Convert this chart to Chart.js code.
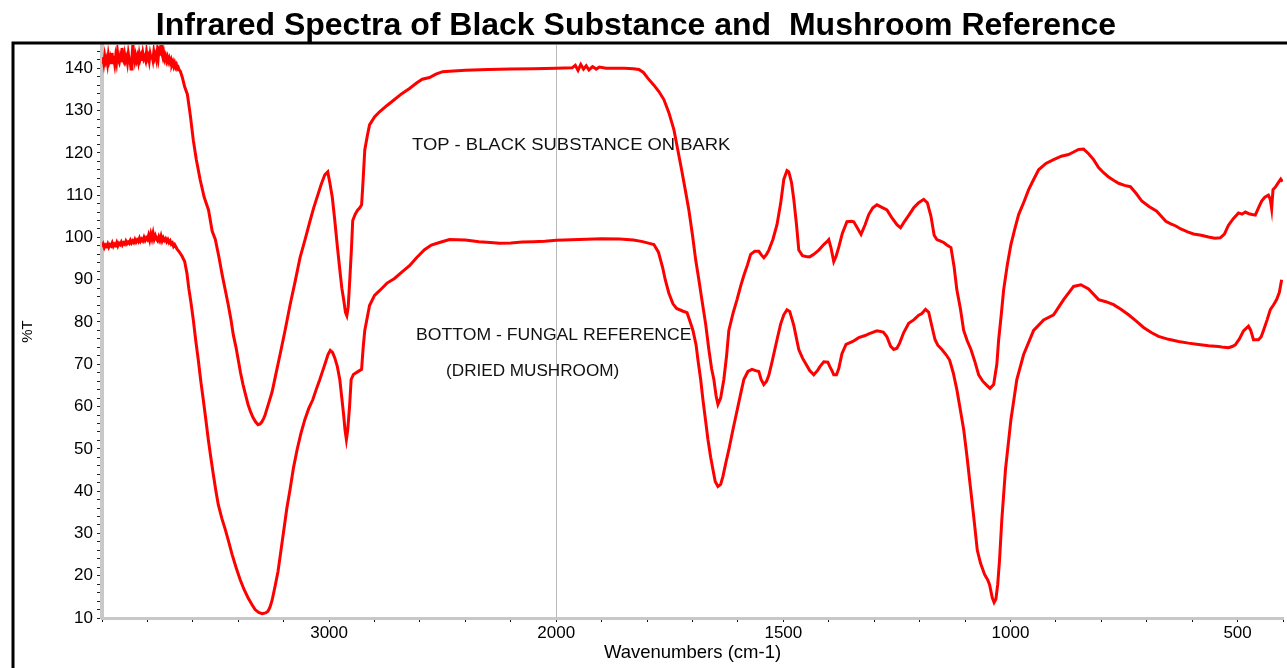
<!DOCTYPE html>
<html>
<head>
<meta charset="utf-8">
<title>Infrared Spectra</title>
<script src="https://cdn.jsdelivr.net/npm/chart.js@4.4.1/dist/chart.umd.min.js"></script>
<style>
  html, body { margin: 0; padding: 0; background: #fff; }
  canvas { display: block; }
</style>
</head>
<body>
<canvas id="ir" width="1287" height="668"></canvas>
<script>
// ---- chart data -------------------------------------------------------
const chartTitle = 'Infrared Spectra of Black Substance and  Mushroom Reference';
const xAxisTitle = 'Wavenumbers (cm-1)';
const yAxisTitle = '%T';

// [wavenumber cm-1, %T] — black substance scraped from bark (upper trace)
const blackSpectrum = [
  [4000,141.4],[3996,142.6],[3992,141.2],[3988,142.9],[3984,141.6],[3980,142.3],[3976,141.0],[3972,143.1],
  [3968,141.7],[3964,142.5],[3960,141.3],[3956,143.6],[3952,141.9],[3948,142.2],[3944,140.9],[3940,142.8],
  [3936,141.5],[3932,143.9],[3928,142.0],[3924,141.4],[3920,142.7],[3916,141.8],[3912,144.8],[3908,142.1],
  [3904,141.6],[3900,143.2],[3896,141.9],[3892,142.6],[3888,141.3],[3884,143.4],[3880,142.0],[3876,141.5],
  [3872,139.8],[3868,142.4],[3864,145.8],[3860,142.9],[3856,141.7],[3852,143.0],[3848,141.9],[3844,142.8],
  [3840,141.6],[3836,143.3],[3832,142.1],[3828,142.9],[3824,141.8],[3820,143.5],[3816,142.2],[3812,142.7],
  [3808,141.9],[3804,143.8],[3800,142.3],[3796,142.9],[3792,141.7],[3788,143.4],[3784,142.4],[3780,143.1],
  [3776,142.0],[3772,143.9],[3768,142.5],[3764,143.2],[3760,142.1],[3756,144.3],[3752,142.8],[3748,145.2],
  [3744,143.0],[3740,145.8],[3736,143.5],[3732,142.6],[3728,143.6],[3724,142.2],[3720,142.9],[3716,141.8],
  [3712,142.6],[3708,141.6],[3704,142.3],[3700,141.4],[3696,142.0],[3692,140.9],[3688,141.5],[3684,140.5],
  [3680,141.2],[3676,140.3],[3672,140.8],[3668,139.9],[3664,140.2],[3660,139.6],[3655,139.3],[3646,137.8],
  [3636,135.6],[3624,133.8],[3611,128.8],[3598,123],[3585,118.5],[3568,113.7],[3550,109.5],[3531,106.5],
  [3515,101.5],[3501,99.5],[3485,95.3],[3471,91.2],[3457,87.5],[3444,84],[3432,80.5],[3422,77],[3410,74],
  [3400,71],[3390,68],[3379,65.2],[3368,62.8],[3357,60.5],[3346,58.8],[3335,57.4],[3324,56.4],[3313,55.7],
  [3304,55.9],[3296,56.4],[3288,57.2],[3282,58],[3266,60.8],[3251,63.5],[3234,67.8],[3216,72.3],[3194,78],
  [3172,84],[3150,89.5],[3128,95.2],[3106,99.5],[3085,103.7],[3068,107],[3050,110],[3035,112.5],[3019,114.8],
  [3006,115.5],[2997,113],[2986,109.5],[2975,104],[2964,98],[2953,92.4],[2944,88],[2936,85.3],[2928,82.3],
  [2922,81.5],[2916,83.5],[2909,90],[2902,97],[2896,104],[2885,105.5],[2874,106.5],[2865,107],[2857,107.7],
  [2852,112],[2843,120.7],[2832,124],[2822,126.6],[2800,128.5],[2778,129.7],[2745,131.2],[2712,132.6],
  [2680,134],[2646,135.2],[2615,136.5],[2590,137.4],[2558,137.8],[2530,138.6],[2500,139.2],[2470,139.3],
  [2400,139.5],[2300,139.7],[2200,139.8],[2100,139.9],[2000,140.0],[1965,140.1],[1958,140.7],[1952,139.5],
  [1946,140.9],[1940,139.8],[1934,140.6],[1928,139.6],[1920,140.4],[1912,139.8],[1905,140.3],[1890,140.0],
  [1870,140.0],[1850,140.0],[1830,139.9],[1818,139.7],[1808,139.0],[1798,137.6],[1785,136.0],[1774,134.5],
  [1763,132.6],[1752,129.5],[1741,125.5],[1732,120.5],[1724,116],[1716,111.3],[1708,106.5],[1700,100.5],
  [1693,94.7],[1686,90],[1679,85],[1671,79.5],[1664,73.5],[1658,69],[1653,66.4],[1648,62.5],[1644,60.5],
  [1638,62],[1631,66.4],[1625,72],[1620,78],[1611,82],[1602,85.3],[1594,88.5],[1587,91],[1579,93.5],
  [1572,96],[1563,96.7],[1554,96.7],[1548,95.8],[1543,95.2],[1537,96],[1532,97],[1523,99.5],[1514,103],
  [1506,108],[1499,113.7],[1492,115.8],[1488,115.5],[1482,113],[1477,109],[1471,103],[1466,97],[1458,95.7],
  [1450,95.5],[1442,95.4],[1433,96],[1422,97],[1411,98.3],[1404,99],[1400,99.5],[1395,97.5],[1389,94.3],
  [1384,95.5],[1378,97.7],[1370,101],[1360,103.7],[1350,103.8],[1345,103.7],[1337,102.2],[1329,100.7],
  [1320,103],[1312,105.4],[1303,107],[1294,107.7],[1283,107.1],[1272,106.5],[1262,104.8],[1250,103],
  [1242,102.3],[1235,103.5],[1224,105.2],[1213,107],[1202,108.2],[1191,109],[1183,108.2],[1175,105],
  [1168,100.5],[1162,99.5],[1155,99.2],[1147,98.8],[1140,98.2],[1131,97.6],[1124,93],[1118,87.6],[1110,83],
  [1103,78],[1095,75.5],[1087,73.5],[1078,70.5],[1070,67.5],[1061,66],[1052,65],[1045,64.3],[1037,65.2],
  [1030,70],[1026,75.8],[1020,82],[1015,87.6],[1007,93.5],[999,98.3],[990,102.2],[982,105.4],[970,108.5],
  [960,111.3],[949,113.7],[938,116],[922,117.5],[905,118.4],[888,119.2],[872,119.6],[861,120.2],[850,120.8],
  [839,120.9],[828,119.8],[817,118.4],[806,116.5],[795,115.3],[784,114.3],[773,113.5],[762,112.8],[749,112.3],
  [736,112],[724,110.5],[711,108.6],[695,107.3],[678,106.2],[668,105],[658,103.8],[647,103.2],[636,102.7],
  [625,102],[610,101.3],[597,100.8],[580,100.5],[564,100.1],[550,99.8],[538,99.9],[529,100.8],[520,102.9],
  [509,104.5],[498,105.8],[490,105.5],[483,106],[475,105.6],[468,105.4],[461,105.3],[454,107],[447,108.6],
  [440,109.5],[432,110],[428,109],[425,106.8],[422,111.3],[416,112],[410,113],[405,113.8],[401,113.2]
];

// [wavenumber cm-1, %T] — dried mushroom reference (lower trace)
const fungalSpectrum = [
  [4000,97.8],[3995,98.4],[3990,97.6],[3985,98.2],[3980,97.9],[3975,98.5],[3970,97.7],[3965,98.3],
  [3960,98.0],[3955,98.7],[3950,97.9],[3945,98.4],[3940,98.1],[3935,98.8],[3930,98.0],[3925,98.6],
  [3920,98.3],[3915,98.9],[3910,98.2],[3905,98.7],[3900,98.4],[3895,99.1],[3890,98.5],[3885,98.9],
  [3880,98.6],[3875,99.3],[3870,98.7],[3865,99.2],[3860,98.8],[3855,99.5],[3850,98.9],[3845,99.4],
  [3840,99.0],[3835,99.8],[3830,99.1],[3825,99.6],[3820,99.2],[3815,100.0],[3810,99.3],[3805,99.9],
  [3800,99.5],[3795,100.5],[3790,99.4],[3785,100.8],[3780,99.7],[3775,101.0],[3770,99.6],[3765,100.4],
  [3760,99.6],[3755,99.2],[3750,100.1],[3745,99.3],[3740,100.3],[3735,99.2],[3730,99.9],[3725,99.3],
  [3720,99.7],[3715,99.0],[3710,99.5],[3705,98.8],[3700,99.2],[3695,98.4],[3690,98.7],[3685,97.9],
  [3680,98.3],[3670,97.3],[3660,96.6],[3648,95.6],[3636,94.3],[3626,91.5],[3618,88],[3608,84.5],
  [3598,80.5],[3587,75.5],[3576,71],[3565,66],[3554,61.6],[3543,57],[3532,52.2],[3521,48],[3510,44],
  [3499,40.2],[3488,36.8],[3472,33.5],[3457,30.9],[3442,28],[3427,25],[3410,22],[3392,19.1],[3375,16.8],
  [3357,14.8],[3340,13.2],[3326,12],[3310,11.3],[3295,11],[3280,11.2],[3269,11.6],[3260,12.6],[3251,14.2],
  [3238,17.5],[3225,21],[3212,26],[3199,31],[3186,36],[3172,40.4],[3157,45.5],[3141,49.8],[3125,53.5],
  [3107,56.9],[3090,59.5],[3072,61.6],[3057,64],[3041,66.4],[3028,68.5],[3015,70.6],[3005,72.3],
  [2995,73.3],[2985,72.8],[2975,71.5],[2964,69.5],[2953,66.4],[2944,62],[2936,58],[2930,54.5],[2924,52.2],
  [2918,54.5],[2910,60],[2903,66.4],[2893,67.6],[2875,68.2],[2857,68.8],[2850,74],[2843,78],[2822,83.9],
  [2800,86.3],[2778,87.4],[2745,89.2],[2712,90.3],[2680,91.8],[2646,93.3],[2615,95.2],[2580,97.1],
  [2550,98.2],[2514,98.8],[2470,99.5],[2400,99.4],[2340,99.0],[2290,98.8],[2250,98.6],[2200,98.7],
  [2150,98.9],[2100,99.0],[2050,99.1],[2000,99.3],[1950,99.5],[1900,99.7],[1860,99.6],[1830,99.4],
  [1810,99.0],[1795,98.6],[1785,98.3],[1775,96.5],[1766,93],[1760,90],[1752,86.8],[1743,84.3],[1735,83.2],
  [1722,82.6],[1712,82.2],[1705,80],[1699,78],[1692,74.5],[1688,71],[1682,66.4],[1677,61.6],[1671,56.5],
  [1666,52.2],[1660,48],[1655,45.1],[1650,42.3],[1644,41.1],[1638,41.6],[1633,43.5],[1626,47],[1620,49.8],
  [1611,54.5],[1602,59],[1594,63],[1587,66.4],[1578,68.3],[1569,68.8],[1561,68.5],[1554,68.3],[1549,66.4],
  [1543,65.2],[1537,66],[1532,67.4],[1525,70.5],[1514,75.8],[1506,79.5],[1499,81.7],[1492,82.9],[1486,82.5],
  [1477,79.2],[1466,73.5],[1458,71.5],[1450,70],[1442,68.5],[1433,67.5],[1425,68.5],[1419,69.5],[1411,70.6],
  [1402,70.5],[1398,69.5],[1393,68.5],[1389,67.5],[1383,67.5],[1378,69],[1371,72.5],[1362,74.7],[1347,75.4],
  [1334,76.3],[1320,76.8],[1312,77.2],[1294,77.9],[1280,77.6],[1272,76.5],[1264,74.3],[1257,73.5],[1250,73.8],
  [1244,75],[1235,77.5],[1224,79.7],[1213,80.5],[1202,81.6],[1195,82],[1187,83],[1180,82.3],[1173,79],
  [1166,75.8],[1160,74.5],[1151,73.5],[1142,72.3],[1134,71],[1126,68],[1118,64],[1110,59],[1103,54.6],
  [1096,48.5],[1090,42.7],[1082,35],[1079,32.1],[1073,26],[1066,23],[1057,20.3],[1050,19],[1046,17.9],
  [1040,14.8],[1036,13.7],[1032,14.5],[1028,18],[1024,23.8],[1019,33.3],[1011,45.1],[999,56.9],[986,66.4],
  [971,72.3],[949,78],[927,80.5],[905,81.7],[883,85.3],[861,88.4],[845,88.8],[828,87.8],[806,85.3],
  [790,84.8],[773,84.1],[757,83],[740,81.7],[723,80.2],[707,78.7],[690,77.5],[674,76.6],[652,75.9],
  [630,75.4],[608,75],[586,74.7],[564,74.4],[542,74.2],[530,74],[520,73.9],[512,74.2],[505,74.6],[496,76],
  [487,77.9],[480,78.6],[476,79],[471,78],[465,75.8],[454,75.8],[448,76.5],[443,78],[435,80.5],[428,82.9],
  [421,84],[414,85.3],[408,87],[403,90]
];

// labelled ticks
const waveLabels = [3000, 2000, 1500, 1000, 500];
const transmittanceLabels = [10, 20, 30, 40, 50, 60, 70, 80, 90, 100, 110, 120, 130, 140];

// text written inside the plot, anchored at [wavenumber, %T]
const plotNotes = [
  { text: 'TOP - BLACK SUBSTANCE ON BARK', at: [2635, 121.6], stretch: 1.15 },
  { text: 'BOTTOM - FUNGAL REFERENCE', at: [2617, 76.9], stretch: 1.1 },
  { text: '(DRIED MUSHROOM)', at: [2485, 68.2], stretch: 1.07 }
];

// ---- wavenumber axis: half scale above 2000 cm-1 -----------------------
const SPLIT = 2000;
const warp = w => (w <= SPLIT ? w : SPLIT + (w - SPLIT) / 2);
const unwarp = u => (u <= SPLIT ? u : SPLIT + (u - SPLIT) * 2);

class WavenumberScale extends Chart.LinearScale {
  static id = 'wavenumber';
  static defaults = {};
  buildTicks() {
    const ticks = [];
    for (let w = this.max; w >= this.min; w -= (w > SPLIT ? 200 : 100)) ticks.push({ value: w });
    this.start = this.max;
    this.end = this.min;
    return ticks;
  }
  getPixelForValue(value) {
    if (value === null || value === undefined || isNaN(value)) return NaN;
    const a = warp(this.min), b = warp(this.max);
    return this.getPixelForDecimal((warp(value) - a) / (b - a));
  }
  getValueForPixel(pixel) {
    const a = warp(this.min), b = warp(this.max);
    return unwarp(a + this.getDecimalForPixel(pixel) * (b - a));
  }
}
Chart.register(WavenumberScale);

// ---- fonts -------------------------------------------------------------
const FONT = "'Liberation Sans', Arial, sans-serif";
Chart.defaults.font.family = FONT;
Chart.defaults.color = '#000';

// ---- plugins -----------------------------------------------------------
// heading, centred over the plot frame
const headingPlugin = {
  id: 'heading',
  afterDraw(chart) {
    const { ctx } = chart;
    ctx.save();
    ctx.font = 'bold 32px ' + FONT;
    ctx.fillStyle = '#000';
    ctx.textAlign = 'center';
    ctx.textBaseline = 'alphabetic';
    ctx.fillText(chartTitle, 636, 35);
    ctx.restore();
  }
};

const notesPlugin = {
  id: 'plotNotes',
  beforeDatasetsDraw(chart) {
    const { ctx, scales: { x, y } } = chart;
    ctx.save();
    ctx.font = '16px ' + FONT;
    ctx.fillStyle = '#111';
    ctx.textBaseline = 'middle';
    ctx.textAlign = 'left';
    for (const n of plotNotes) {
      ctx.save();
      ctx.translate(x.getPixelForValue(n.at[0]), y.getPixelForValue(n.at[1]));
      ctx.scale(n.stretch, 1);
      ctx.fillText(n.text, 0, 0);
      ctx.restore();
    }
    ctx.restore();
  }
};

const framePlugin = {
  id: 'frame',
  afterDraw(chart) {
    const { ctx, width, height } = chart;
    ctx.save();
    ctx.strokeStyle = '#000';
    ctx.lineWidth = 3;
    ctx.beginPath();
    ctx.moveTo(13, height + 2);
    ctx.lineTo(13, 43);
    ctx.lineTo(width + 2, 43);
    ctx.stroke();
    ctx.restore();
  }
};

const toPoints = arr => arr.map(([w, t]) => ({ x: w, y: t }));
const traceStyle = {
  borderColor: '#ff0000',
  borderWidth: 3,
  pointRadius: 0,
  tension: 0,
  fill: false
};

new Chart(document.getElementById('ir'), {
  type: 'line',
  data: {
    datasets: [
      Object.assign({ label: 'Black substance on bark', data: toPoints(blackSpectrum) }, traceStyle),
      Object.assign({ label: 'Fungal reference (dried mushroom)', data: toPoints(fungalSpectrum) }, traceStyle)
    ]
  },
  options: {
    responsive: false,
    devicePixelRatio: 1,
    animation: false,
    layout: { padding: { left: 0, right: 4, top: 45, bottom: 0 } },
    plugins: {
      legend: { display: false },
      tooltip: { enabled: false },
      title: { display: false }
    },
    scales: {
      x: {
        type: 'wavenumber',
        min: 400,
        max: 4000,
        reverse: true,
        afterFit(scale) { scale.height = 50; },
        border: { color: '#c8c8c8', width: 3 },
        grid: {
          drawOnChartArea: true,
          color: c => (c.tick && c.tick.value === SPLIT ? '#b8b8b8' : 'rgba(0,0,0,0)'),
          lineWidth: 1,
          tickColor: '#111',
          tickLength: 4,
          tickWidth: 1
        },
        ticks: {
          autoSkip: false,
          maxRotation: 0,
          padding: 1,
          color: '#000',
          font: { size: 17 },
          callback: v => (waveLabels.includes(v) ? String(v) : '')
        },
        title: {
          display: true,
          text: xAxisTitle,
          color: '#000',
          font: { size: 18.5 },
          padding: { top: 0, bottom: 4 }
        }
      },
      y: {
        type: 'linear',
        min: 10,
        max: 145.5,
        afterFit(scale) { scale.width = 102; },
        afterBuildTicks(scale) {
          const ticks = [];
          for (let v = transmittanceLabels[0]; v <= scale.max; v += 2) ticks.push({ value: v });
          scale.ticks = ticks;
        },
        border: { color: '#c8c8c8', width: 4 },
        grid: {
          drawOnChartArea: false,
          tickColor: '#222',
          tickLength: 5,
          tickWidth: 1
        },
        ticks: {
          autoSkip: false,
          padding: 4,
          color: '#000',
          font: { size: 17 },
          callback: v => (transmittanceLabels.includes(v) ? String(v) : '')
        },
        title: {
          display: true,
          text: yAxisTitle,
          color: '#000',
          font: { size: 15 },
          padding: { top: 19, bottom: 0 }
        }
      }
    }
  },
  plugins: [headingPlugin, notesPlugin, framePlugin]
});
</script>
</body>
</html>
